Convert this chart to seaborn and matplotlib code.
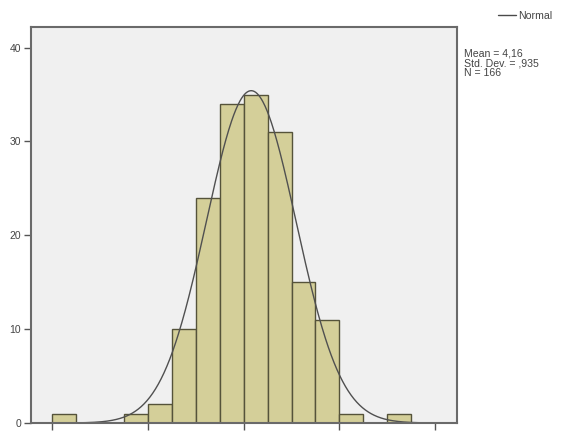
import numpy as np
import pandas as pd
import matplotlib
matplotlib.use("Agg")
import matplotlib.pyplot as plt
from matplotlib.lines import Line2D
import seaborn as sns

# Data
bin_left = [0.0, 1.5, 2.0, 2.5, 3.0, 3.5, 4.0, 4.5, 5.0, 5.5, 6.0, 7.0]
counts = [1, 1, 2, 10, 24, 34, 35, 31, 15, 11, 1, 1]
bin_width = 0.5
mean_val = 4.16
sd_val = 0.935
n_val = 166
x_ticks = [0, 2, 4, 6, 8]
x_tick_labels = ["0", "2", "4", "6", "8"]
y_ticks = [0, 10, 20, 30, 40]

sns.set_theme(style="white")
plt.rcParams['font.family'] = ['Liberation Sans', 'DejaVu Sans']

fig = plt.figure(figsize=(5.62, 4.34), dpi=100)
ax = fig.add_axes([0.0552, 0.0253, 0.7580, 0.9125])
ax.set_facecolor("#f0f0f0")

df = pd.DataFrame({"x": [b + bin_width / 2 for b in bin_left], "w": counts})
sns.histplot(data=df, x="x", weights="w", binwidth=bin_width, binrange=(0.0, 7.5), ax=ax,
             color="#d4cf99", edgecolor="#55533a", linewidth=1.0, alpha=1.0)

xs = np.linspace(-0.43, 8.45, 600)
ys = n_val * bin_width / (sd_val * np.sqrt(2 * np.pi)) * np.exp(-0.5 * ((xs - mean_val) / sd_val) ** 2)
sns.lineplot(x=xs, y=ys, ax=ax, color="#505050", linewidth=1.0)

ax.set_xlim(-0.43, 8.45)
ax.set_ylim(0, 42.2)
ax.set_xticks(x_ticks)
ax.set_xticklabels(x_tick_labels)
ax.set_yticks(y_ticks)
ax.set_xlabel("")
ax.set_ylabel("")
ax.tick_params(axis="both", which="both", direction="out", length=5, width=1.0,
               color="#555555", labelsize=7.5, labelcolor="#444444", pad=2,
               bottom=True, left=True)
ax.tick_params(axis="x", pad=3)
for s in ax.spines.values():
    s.set_color("#6a6a6a")
    s.set_linewidth(1.5)

handle = Line2D([0], [0], color="#4a4a4a", linewidth=1.0)
fig.legend([handle], ["Normal"], loc="upper right", bbox_to_anchor=(1.0, 0.997),
           frameon=False, fontsize=7.6, handlelength=1.7, handletextpad=0.25,
           labelcolor="#444444")

fig.text(0.826, 0.888,
         "Mean = 4,16\nStd. Dev. = ,935\nN = 166",
         fontsize=7.6, color="#444444", va="top", ha="left", linespacing=0.98)

fig.savefig("out.png", dpi=100, facecolor="white")
